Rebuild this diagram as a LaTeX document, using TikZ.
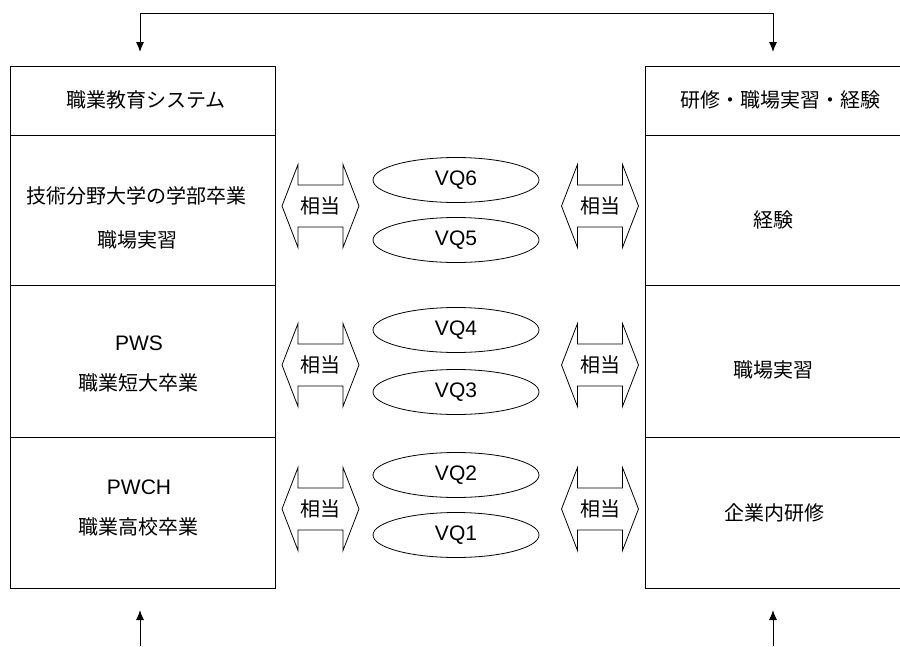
\documentclass[tikz,border=0pt]{standalone}
\usepackage{fontspec}
\setmainfont{Liberation Sans}
\newfontfamily\jp{Noto Sans CJK JP}
\usetikzlibrary{arrows.meta,shapes.geometric}
\tikzset{
  cell/.style={draw, line width=1pt, rectangle, inner sep=0pt},
  jtxt/.style={font=\jp\fontsize{20}{24}\selectfont, inner sep=0pt},
  ltxt/.style={font=\fontsize{21}{24}\selectfont, inner sep=0pt},
  vq/.style={draw, line width=0.8pt, ellipse, minimum width=166pt, minimum height=45pt, inner sep=0pt, font=\fontsize{21}{24}\selectfont},
  arr/.style={line width=1pt, -{Latex[length=10pt,width=8pt]}},
  dbl/.pic={\draw[line width=0.8pt] (-38.5,0) -- (-22.5,-41.5) -- (-22.5,-21) -- (22.5,-21) -- (22.5,-41.5) -- (38.5,0) -- (22.5,41.5) -- (22.5,21) -- (-22.5,21) -- (-22.5,41.5) -- cycle;}
}
\begin{document}
\begin{tikzpicture}[x=1pt,y=-1pt]
\useasboundingbox (0,0) rectangle (900,646);
\clip (0,0) rectangle (900,646);
% left column
\node[cell, minimum width=265pt, minimum height=69pt] (lh) at (142.5,100.5) {};
\node[cell, minimum width=265pt, minimum height=150pt] (l1) at (142.5,210) {};
\node[cell, minimum width=265pt, minimum height=152pt] (l2) at (142.5,361) {};
\node[cell, minimum width=265pt, minimum height=151pt] (l3) at (142.5,512.5) {};
% right column
\node[cell, minimum width=258pt, minimum height=69pt] (rh) at (774,100.5) {};
\node[cell, minimum width=258pt, minimum height=150pt] (r1) at (774,210) {};
\node[cell, minimum width=258pt, minimum height=152pt] (r2) at (774,361) {};
\node[cell, minimum width=258pt, minimum height=151pt] (r3) at (774,512.5) {};
% texts left
\node[jtxt] (tlh) at (146,100) {職業教育システム};
\node[jtxt] (tl1a) at (137,196) {技術分野大学の学部卒業};
\node[jtxt] (tl1b) at (137,240) {職場実習};
\node[ltxt] (tl2a) at (139,343) {PWS};
\node[jtxt] (tl2b) at (138,383) {職業短大卒業};
\node[ltxt] (tl3a) at (139,487) {PWCH};
\node[jtxt] (tl3b) at (138,527) {職業高校卒業};
% texts right
\node[jtxt] (trh) at (780,100) {研修・職場実習・経験};
\node[jtxt] (tr1) at (773,220) {経験};
\node[jtxt] (tr2) at (773,370) {職場実習};
\node[jtxt] (tr3) at (774,513) {企業内研修};
% double arrows
\foreach \cy/\nm in {206/a, 365/b, 509/c}{
  \pic at (320.5,\cy) {dbl};
  \node[jtxt] (L\nm) at (320.5,\cy) {相当};
  \pic at (600,\cy) {dbl};
  \node[jtxt] (R\nm) at (600,\cy) {相当};
}
% ellipses
\node[vq] (vq6) at (456,180) {VQ6};
\node[vq] (vq5) at (456,240) {VQ5};
\node[vq] (vq4) at (456,330) {VQ4};
\node[vq] (vq3) at (456,392) {VQ3};
\node[vq] (vq2) at (456,475) {VQ2};
\node[vq] (vq1) at (456,535) {VQ1};
% top connector
\coordinate (tl) at (140,13);
\coordinate (tr) at (773,13);
\coordinate (al) at (140,52);
\coordinate (ar) at (773,52);
\draw[line width=1pt] (tl) -- (tr);
\draw[arr] (tl) -- (al);
\draw[arr] (tr) -- (ar);
% bottom arrows
\coordinate (bl0) at (140,646);
\coordinate (bl1) at (140,610);
\coordinate (br0) at (773,646);
\coordinate (br1) at (773,610);
\draw[arr] (bl0) -- (bl1);
\draw[arr] (br0) -- (br1);
\end{tikzpicture}
\end{document}
